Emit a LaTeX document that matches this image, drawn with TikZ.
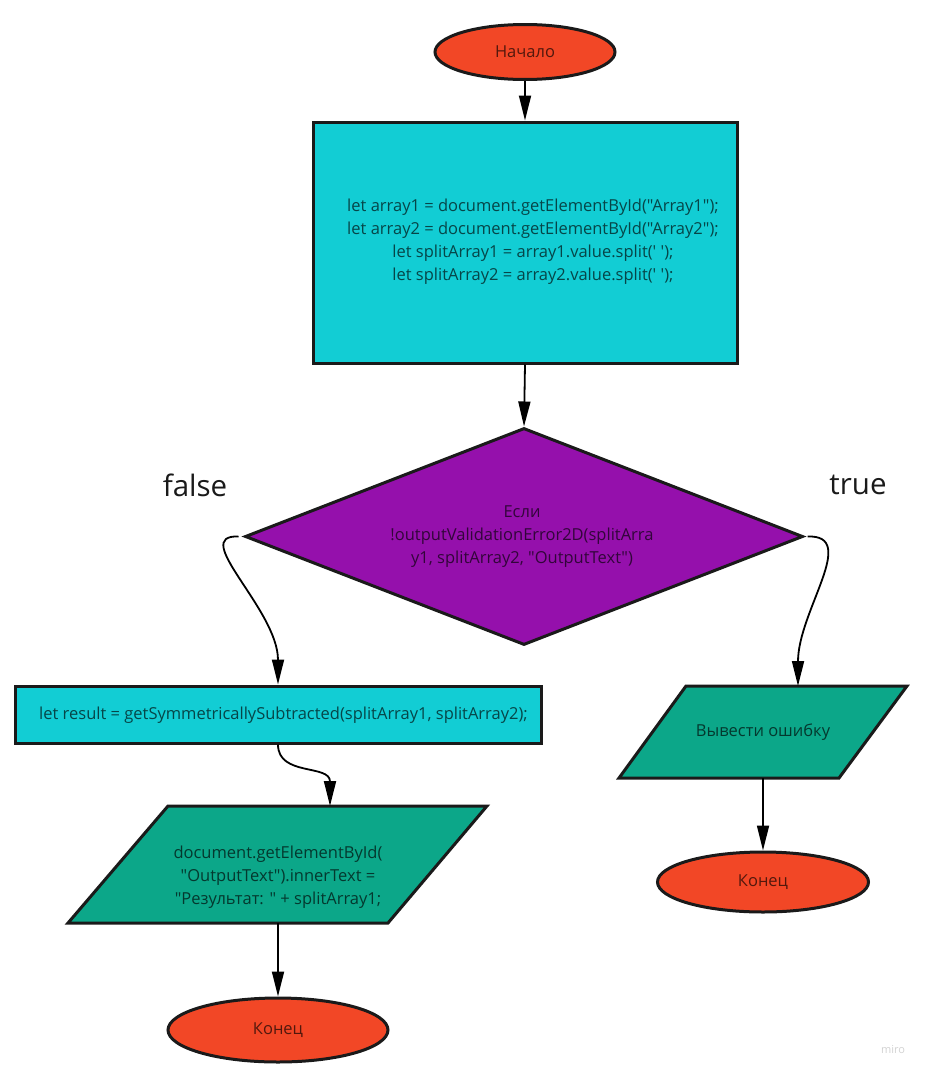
\documentclass[tikz,border=0pt]{standalone}
\usepackage{fontspec}
\setmainfont{Open Sans}[Ligatures=TeXOff]
\usetikzlibrary{arrows.meta,shapes.geometric}
\definecolor{termred}{HTML}{F24726}
\definecolor{proccyan}{HTML}{12CDD4}
\definecolor{decpurple}{HTML}{9510AC}
\definecolor{iogreen}{HTML}{0CA789}
\definecolor{edge}{HTML}{1A1A1A}
\begin{document}
\begin{tikzpicture}[x=1pt,y=-1pt,
  terminal/.style={ellipse, draw=edge, line width=3pt, fill=termred, inner sep=0pt},
  procbox/.style={rectangle, draw=edge, line width=3pt, fill=proccyan, inner sep=0pt},
  decbox/.style={diamond, draw=edge, line width=3pt, fill=decpurple, inner sep=0pt},
  iobox/.style={draw=edge, line width=3pt, fill=iogreen, line join=miter},
  holder/.style={rectangle, inner sep=0pt},
  txt/.style={text=black, text opacity=0.66, font=\fontsize{16.5}{23}\selectfont, align=center},
  branch/.style={text=edge, font=\fontsize{29.5}{34}\selectfont},
  flow/.style={-{Triangle[length=25pt,width=12pt]}, line width=1.8pt, black}]
\useasboundingbox (0,0) rectangle (929,1076);

% start
\node[terminal, minimum width=180pt, minimum height=55pt] (start) at (525,52) {};
\node[txt] (startText) at (start.center) {Начало};

% initialisation block
\node[procbox, minimum width=424pt, minimum height=241pt] (init) at (525,242.5) {};
\node[txt] (initText) at (533,242) {let array1 = document.getElementById("Array1");\\
let array2 = document.getElementById("Array2");\\
let splitArray1 = array1.value.split(' ');\\
let splitArray2 = array2.value.split(' ');};

% validation check
\node[decbox, minimum width=558pt, minimum height=217pt] (cond) at (524,536.5) {};
\node[txt] (condText) at (522,537) {Если\\ !outputValidationError2D(splitArra\\ y1, splitArray2, "OutputText")};

\node[branch] (falseLbl) at (195,485) {false};
\node[branch] (trueLbl) at (858,485) {true};

% false branch
\node[procbox, minimum width=526pt, minimum height=57pt] (res) at (278,714.5) {};
\node[txt] (resText) at (283.5,715) {let result = getSymmetricallySubtracted(splitArray1, splitArray2);};

\draw[iobox] (168,806) -- (487,806) -- (388,923) -- (68,923) -- cycle;
\node[holder, minimum width=320pt, minimum height=117pt] (out) at (278,864.5) {};
\node[txt] (outText) at (278,877) {document.getElementById(\\ "OutputText").innerText =\\ "Результат: " + splitArray1;};
\coordinate (outIn) at (330,806);

\node[terminal, minimum width=220pt, minimum height=64pt] (endL) at (278,1030) {};
\node[txt] (endLText) at (endL.center) {Конец};

% true branch
\draw[iobox] (686,686) -- (907,686) -- (839,778) -- (619,778) -- cycle;
\node[holder, minimum width=220pt, minimum height=92pt] (err) at (763,732) {};
\node[txt] (errText) at (err.center) {Вывести ошибку};
\coordinate (errIn) at (798,686);

\node[terminal, minimum width=211pt, minimum height=60pt] (endR) at (763,882) {};
\node[txt] (endRText) at (endR.center) {Конец};

% connectors
\draw[flow] (start.south) -- (init.north);
\draw[flow] (init.south) -- (cond.north);
\draw[flow] ([xshift=-5pt]cond.west) .. controls +(-50,-2) and +(0,-75) .. (res.north);
\draw[flow] ([xshift=3pt]cond.east) .. controls +(52,-2) and +(0,-75) .. (errIn);
\draw[flow] (res.south) .. controls +(0,32) and +(0,-42) .. (outIn);
\draw[flow] (out.south) -- (endL.north);
\draw[flow] (err.south) -- (endR.north);

% watermark
\node[text=gray!35, font=\fontsize{11}{12}\selectfont] (mark) at (893,1050) {miro};
\end{tikzpicture}
\end{document}
